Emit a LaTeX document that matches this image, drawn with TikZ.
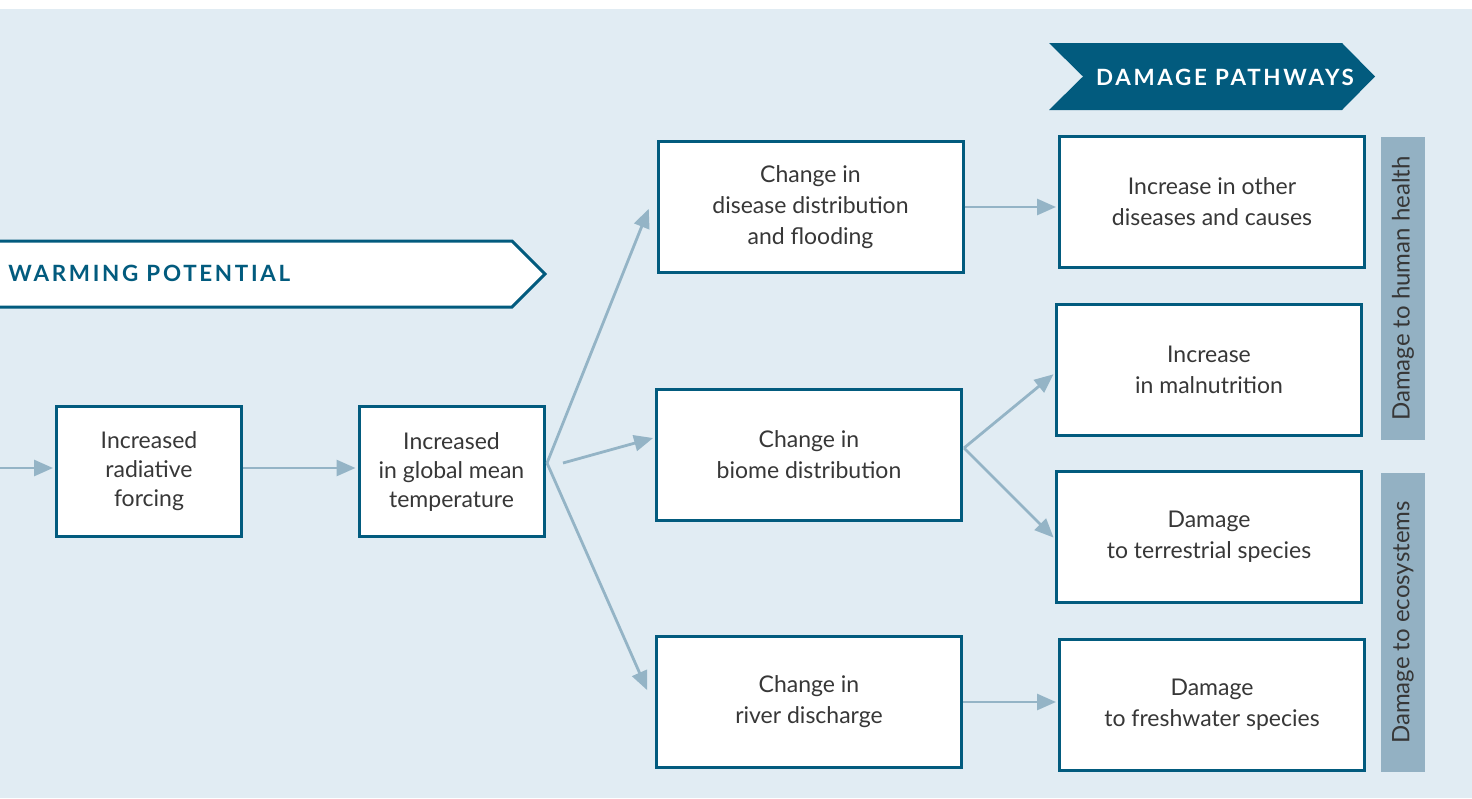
\documentclass[tikz,border=0pt]{standalone}
\usepackage{fontspec}
\setmainfont{Lato}
\newfontfamily\bannerfont[LetterSpace=12]{Lato}
\usepackage{xcolor}
\usetikzlibrary{arrows.meta, calc, positioning}

\definecolor{panel}{RGB}{225,236,243}
\definecolor{deepblue}{RGB}{2,91,126}
\definecolor{pathgrey}{RGB}{148,180,198}
\definecolor{barblue}{RGB}{147,177,195}
\definecolor{inkgrey}{RGB}{55,55,55}

\tikzset{
	box/.style = {draw=deepblue, line width=1.5pt, fill=white, align=center, text=inkgrey, inner sep=0pt},
	effect box/.style = {box, minimum width=152.5pt, minimum height=65.5pt, font=\fontsize{11.5}{15.5}\selectfont},
	cause box/.style = {box, minimum width=92.5pt, minimum height=65pt, font=\fontsize{11.5}{14.5}\selectfont},
	side bar/.style = {fill=barblue, rotate=90, minimum height=22pt, inner sep=0pt, text=inkgrey, font=\fontsize{12}{14}\selectfont},
	banner text/.style = {inner sep=0pt, font=\bannerfont\bfseries\fontsize{11.2}{13}\selectfont},
	flow/.style = {draw=pathgrey, line width=1.4pt, -{Triangle[length=9.5pt, width=8pt]}, shorten >=1pt},
}

\begin{document}
\begin{tikzpicture}[x=0.5pt, y=-0.5pt]
	\useasboundingbox (0,0) rectangle (1472,798);
	\fill[panel] (0,9) rectangle (1472,798);

	% banners
	\draw[deepblue, line width=1.5pt, fill=white] (-10,241) -- (512,241) -- (545,274) -- (512,307) -- (-10,307);
	\node[banner text, anchor=west, text=deepblue] (warming) at (8,273) {WARMING POTENTIAL};

	\fill[deepblue] (1049,43) -- (1342,43) -- (1375,76.5) -- (1342,110) -- (1049,110) -- (1083,76.5) -- cycle;
	\node[banner text, text=white] (pathways) at (1225,77) {DAMAGE PATHWAYS};

	% chain of effects
	\node[cause box] (forcing) at (149,471.5) {Increased\\radiative\\forcing};
	\node[cause box] (temperature) at (451.5,471.5) {Increased\\in global mean\\temperature};

	\node[effect box] (disease) at (810.5,207) {Change in\\disease distribution\\and flooding};
	\node[effect box] (biome) at (809,454.5) {Change in\\biome distribution};
	\node[effect box] (river) at (809,702) {Change in\\river discharge};

	\node[effect box] (other) at (1212,201.5) {Increase in other\\diseases and causes};
	\node[effect box] (malnutrition) at (1209,370) {Increase\\in malnutrition};
	\node[effect box] (terrestrial) at (1209,536.5) {Damage\\to terrestrial species};
	\node[effect box] (freshwater) at (1212,704.5) {Damage\\to freshwater species};

	\node[side bar, minimum width=151.5pt] (health) at (1403,288.5) {Damage to human health};
	\node[side bar, minimum width=149.5pt] (ecosystems) at (1403,622.5) {Damage to ecosystems};

	% arrows
	\coordinate (feed) at (0,468);
	\coordinate (fork) at (547,463);
	\coordinate (mid fork) at (563,463);
	\coordinate (biome fork) at (964,448);

	\draw[flow] (feed) -- (feed -| forcing.west);
	\draw[flow] (forcing.east |- feed) -- (temperature.west |- feed);
	\draw[flow] (fork) -- ($(disease.west)+(-7,0)$);
	\draw[flow] (mid fork) -- ($(biome.west)+(0,-17)$);
	\draw[flow] (fork) -- ($(river.west)+(-7,-10)$);
	\draw[flow] (disease.east) -- (disease.east -| other.west);
	\draw[flow] (biome fork) -- ($(malnutrition.west)+(0,3)$);
	\draw[flow] (biome fork) -- ($(terrestrial.west)+(0,2.5)$);
	\draw[flow] (river.east) -- (river.east -| freshwater.west);
\end{tikzpicture}
\end{document}
